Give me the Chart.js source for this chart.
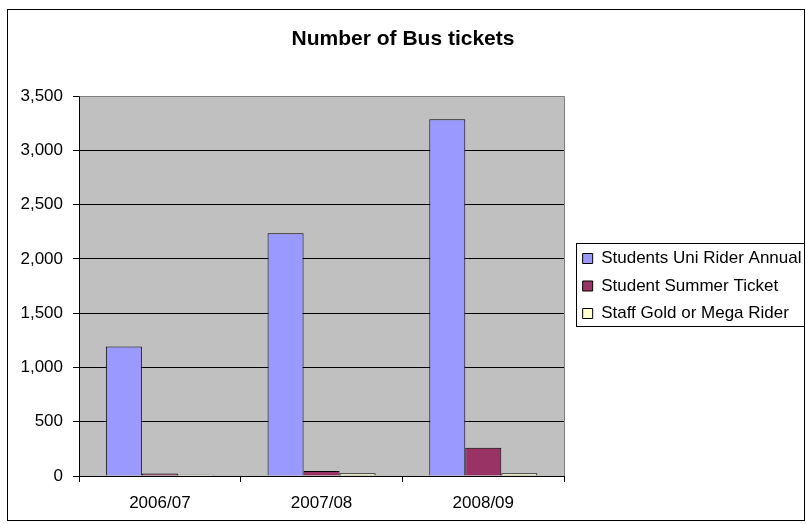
<!DOCTYPE html>
<html>
<head>
<meta charset="utf-8">
<script src="https://cdn.jsdelivr.net/npm/chart.js@4/dist/chart.umd.min.js"></script>
<style>
  html, body { margin: 0; padding: 0; background: #fff; }
  canvas { display: block; }
</style>
</head>
<body>
<canvas id="c" width="806" height="524"></canvas>
<script>
const categories = ['2006/07', '2007/08', '2008/09'];
const seriesNames = ['Students Uni Rider Annual', 'Student Summer Ticket', 'Staff Gold or Mega Rider'];
const uniRider = [1192, 2235, 3287];
const summerTicket = [22, 45, 260];
const staffGold = [12, 25, 25];
const chartTitle = 'Number of Bus tickets';
const yMin = 0, yMax = 3500, yStep = 500;

Chart.defaults.font.family = "'Liberation Sans', Arial, sans-serif";
Chart.defaults.color = '#000';

const LEGEND_SHIFT = 8;   // gap between plot area and legend items
const LEGEND_EXTRA = 2.5; // extra legend width

const legendGap = {
  id: 'legendGap',
  beforeLayout(chart) {
    const lg = chart.legend;
    if (lg && !lg._gapPatched) {
      const fit = lg.fit.bind(lg);
      lg.fit = function () { fit(); if (!this.isHorizontal()) this.width += LEGEND_EXTRA; };
      const draw = lg.draw.bind(lg);
      lg.draw = function () {
        const ctx = this.ctx;
        ctx.save();
        ctx.translate(LEGEND_SHIFT, 0);
        draw();
        ctx.restore();
      };
      lg._gapPatched = true;
    }
  }
};

const decor = {
  id: 'decor',
  beforeDraw(chart) {
    const {ctx, chartArea: a} = chart;
    ctx.save();
    ctx.fillStyle = '#fff';
    ctx.fillRect(0, 0, chart.width, chart.height);
    ctx.fillStyle = '#C0C0C0';
    ctx.fillRect(a.left, a.top, a.right - a.left, a.bottom - a.top);
    ctx.restore();
  },
  afterDatasetsDraw(chart) {
    const {ctx, chartArea: a} = chart;
    ctx.save();
    ctx.strokeStyle = '#808080';
    ctx.lineWidth = 1;
    ctx.beginPath();
    ctx.moveTo(a.left + 0.5, Math.round(a.top) + 0.5);
    ctx.lineTo(Math.round(a.right) + 0.5, Math.round(a.top) + 0.5);
    ctx.lineTo(Math.round(a.right) + 0.5, a.bottom);
    ctx.stroke();
    ctx.restore();
  },
  afterDraw(chart) {
    const {ctx} = chart;
    ctx.save();
    ctx.strokeStyle = '#000';
    ctx.lineWidth = 1;
    ctx.strokeRect(7.5, 9.5, 797, 511);
    const hb = chart.legend.legendHitBoxes;
    if (hb && hb.length) {
      const first = hb[0], last = hb[hb.length - 1];
      const l = Math.round(first.left + LEGEND_SHIFT) - 6.5;
      const t = Math.round(first.top) - 6.5;
      const b = Math.round(last.top + last.height) + 4.5;
      ctx.strokeRect(l, t, 804.5 - l, b - t);
    }
    ctx.restore();
  }
};

new Chart(document.getElementById('c'), {
  type: 'bar',
  data: {
    labels: categories,
    datasets: [
      { label: seriesNames[0], data: uniRider, backgroundColor: '#9999FF', borderColor: '#000', borderWidth: 1 },
      { label: seriesNames[1], data: summerTicket, backgroundColor: '#993366', borderColor: '#000', borderWidth: 1 },
      { label: seriesNames[2], data: staffGold, backgroundColor: '#FFFFCC', borderColor: '#000', borderWidth: 1 }
    ]
  },
  options: {
    responsive: false,
    animation: false,
    devicePixelRatio: 1,
    layout: { padding: { top: 0, left: 0, right: 0, bottom: 0 } },
    datasets: { bar: { categoryPercentage: 0.668, barPercentage: 1.0 } },
    plugins: {
      title: {
        display: true,
        text: chartTitle,
        font: { size: 21, weight: 'bold' },
        color: '#000',
        padding: { top: 27, bottom: 43.8 }
      },
      legend: {
        position: 'right',
        fullSize: false,
        align: 'center',
        maxWidth: 260,
        labels: {
          boxWidth: 10,
          boxHeight: 10,
          padding: 10.5,
          color: '#000',
          font: { size: 17 }
        }
      },
      tooltip: { enabled: false }
    },
    scales: {
      x: {
        offset: true,
        grid: { display: true, drawOnChartArea: false, drawTicks: true, tickLength: 6, color: '#000', offset: true },
        border: { display: true, color: '#000', width: 1 },
        ticks: { padding: 11, font: { size: 17 }, color: '#000' },
        afterFit(scale) { scale.height = 48; }
      },
      y: {
        min: yMin,
        max: yMax,
        grid: {
          display: true,
          drawOnChartArea: true,
          drawTicks: true,
          tickLength: 6,
          color: '#000'
        },
        border: { display: true, color: '#000', width: 1 },
        ticks: {
          stepSize: yStep,
          padding: 10,
          font: { size: 17 },
          color: '#000',
          callback: (v) => Number(v).toLocaleString('en-US')
        },
        afterFit(scale) { scale.width = 79; }
      }
    }
  },
  plugins: [legendGap, decor]
});
</script>
</body>
</html>
